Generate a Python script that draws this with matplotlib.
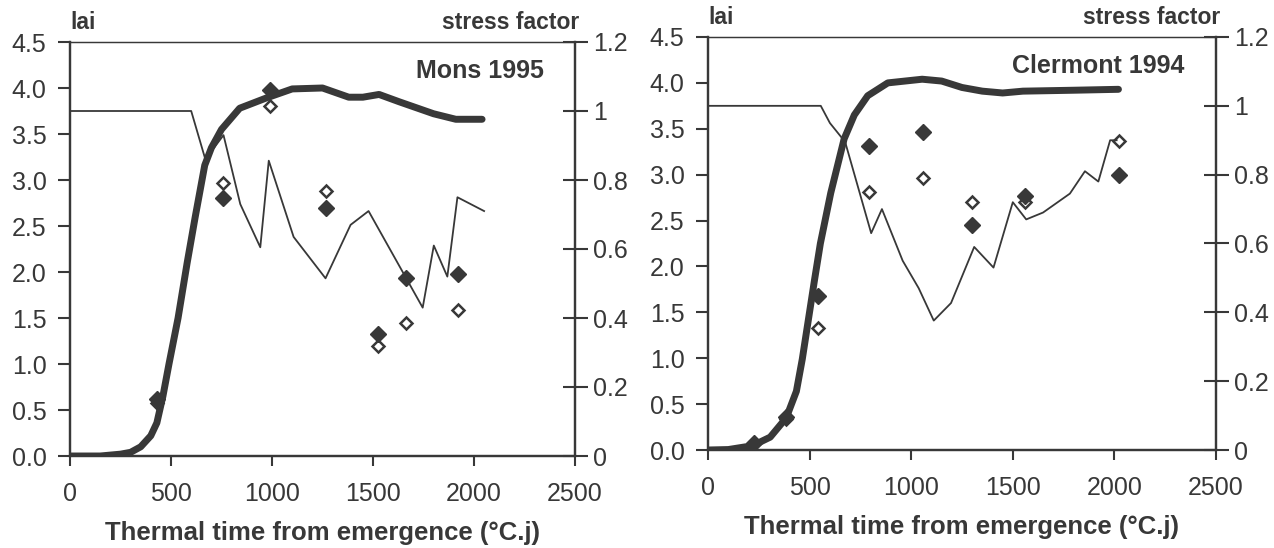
import matplotlib
matplotlib.use("Agg")
import matplotlib.pyplot as plt
from matplotlib.ticker import FuncFormatter, MultipleLocator

INK = "#383838"
plt.rcParams["font.family"] = ["Liberation Sans", "DejaVu Sans"]
plt.rcParams["text.color"] = INK

# Mons 1995
mons_lai_t = [0, 150, 250, 300, 350, 400, 430, 460, 490, 535, 580, 620, 667, 700,
              750, 840, 970, 1100, 1250, 1380, 1450, 1530, 1630, 1800, 1910, 2040]
mons_lai = [0, 0, 0.02, 0.04, 0.1, 0.22, 0.36, 0.65, 1.0, 1.5, 2.1, 2.6, 3.16, 3.35,
            3.55, 3.78, 3.89, 3.99, 4.0, 3.9, 3.9, 3.93, 3.85, 3.72, 3.66, 3.66]
mons_sf_t = [0, 600, 670, 760, 843, 942, 984, 1107, 1265, 1389, 1478, 1746, 1801,
             1868, 1918, 2050]
mons_sf = [1.0, 1.0, 0.86, 0.93, 0.73, 0.605, 0.856, 0.635, 0.515, 0.67, 0.71, 0.43,
           0.61, 0.52, 0.75, 0.71]
mons_obs_t = [430, 757, 989, 1265, 1526, 1661, 1923]
mons_obs_filled = [0.62, 2.80, 3.98, 2.70, 1.33, 1.93, 1.98]
mons_obs_open = [0.58, 2.97, 3.80, 2.88, 1.20, 1.45, 1.59]

# Clermont 1994
cler_lai_t = [0, 100, 200, 250, 306, 385, 435, 464, 494, 524, 553, 604, 670, 720,
              786, 885, 1054, 1150, 1250, 1350, 1450, 1550, 1800, 2020]
cler_lai = [0, 0.005, 0.04, 0.08, 0.14, 0.35, 0.64, 0.99, 1.42, 1.85, 2.25, 2.8,
            3.39, 3.65, 3.86, 4.0, 4.04, 4.02, 3.95, 3.91, 3.89, 3.91, 3.92, 3.93]
cler_sf_t = [0, 555, 600, 675, 803, 856, 958, 1037, 1111, 1196, 1310, 1405, 1500,
             1566, 1649, 1781, 1855, 1921, 1979, 2011]
cler_sf = [1.0, 1.0, 0.95, 0.895, 0.63, 0.70, 0.55, 0.47, 0.376, 0.427, 0.59, 0.53,
           0.72, 0.67, 0.69, 0.745, 0.81, 0.78, 0.90, 0.90]
cler_obs_t = [227, 385, 543, 793, 1058, 1297, 1562, 2021]
cler_obs_filled = [0.08, 0.36, 1.68, 3.31, 3.47, 2.45, 2.77, 3.0]
cler_obs_open = [0.06, 0.34, 1.33, 2.81, 2.96, 2.70, 2.70, 3.37]

FS = 18


def panel(fig, rect, lai_t, lai, sf_t, sf, obs_t, obs_filled, obs_open, site):
    ax = fig.add_axes(rect)
    ax2 = ax.twinx()

    ax.plot(lai_t, lai, color=INK, lw=5, solid_capstyle="round", zorder=3)
    ax2.plot(sf_t, sf, color=INK, lw=1.3, zorder=2)
    ax.plot(obs_t, obs_open, ls="none", marker="D", ms=6.5, mfc="white",
            mec=INK, mew=1.8, zorder=4)
    ax.plot(obs_t, obs_filled, ls="none", marker="D", ms=8, color=INK, zorder=5)

    ax.set_xlim(0, 2500)
    ax.set_ylim(0, 4.5)
    ax2.set_ylim(0, 1.2)
    ax.xaxis.set_major_locator(MultipleLocator(500))
    ax.yaxis.set_major_locator(MultipleLocator(0.5))
    ax.yaxis.set_major_formatter(FuncFormatter(lambda v, _: f"{v:.1f}"))
    ax2.yaxis.set_major_locator(MultipleLocator(0.2))
    ax2.yaxis.set_major_formatter(FuncFormatter(lambda v, _: f"{v:g}"))

    ax.tick_params(axis="x", direction="out", length=7, width=1.5, color=INK,
                   labelsize=FS, labelcolor=INK, pad=12)
    ax.tick_params(axis="y", direction="out", length=9, width=1.5, color=INK,
                   labelsize=FS, labelcolor=INK, pad=8)
    ax2.tick_params(axis="y", direction="inout", length=18, width=1.5, color=INK,
                    labelsize=FS, labelcolor=INK, pad=4)

    for a in (ax, ax2):
        for side, sp in a.spines.items():
            sp.set_color(INK)
            sp.set_linewidth(0.9 if side == "top" else 1.6)

    ax.set_xlabel("Thermal time from emergence (°C.j)", fontsize=FS + 0.5,
                  fontweight="bold", color=INK)
    ax.xaxis.set_label_coords(0.5, -0.158)

    ax.text(0.0, 1.02, "lai", transform=ax.transAxes, ha="left", va="bottom",
            fontsize=FS - 1.5, fontweight="bold")
    ax.text(1.008, 1.02, "stress factor", transform=ax.transAxes, ha="right",
            va="bottom", fontsize=FS - 1.5, fontweight="bold")
    ax.text(0.938, 0.93, site, transform=ax.transAxes, ha="right", va="center",
            fontsize=FS, fontweight="bold")
    return ax


fig = plt.figure(figsize=(12.74, 5.48), dpi=100)
panel(fig, [70 / 1274, 92 / 548, 505 / 1274, 414 / 548],
      mons_lai_t, mons_lai, mons_sf_t, mons_sf,
      mons_obs_t, mons_obs_filled, mons_obs_open, "Mons 1995")
panel(fig, [708 / 1274, 98 / 548, 508 / 1274, 413 / 548],
      cler_lai_t, cler_lai, cler_sf_t, cler_sf,
      cler_obs_t, cler_obs_filled, cler_obs_open, "Clermont 1994")

fig.savefig("out.png", dpi=100, facecolor="white")
plt.close(fig)
